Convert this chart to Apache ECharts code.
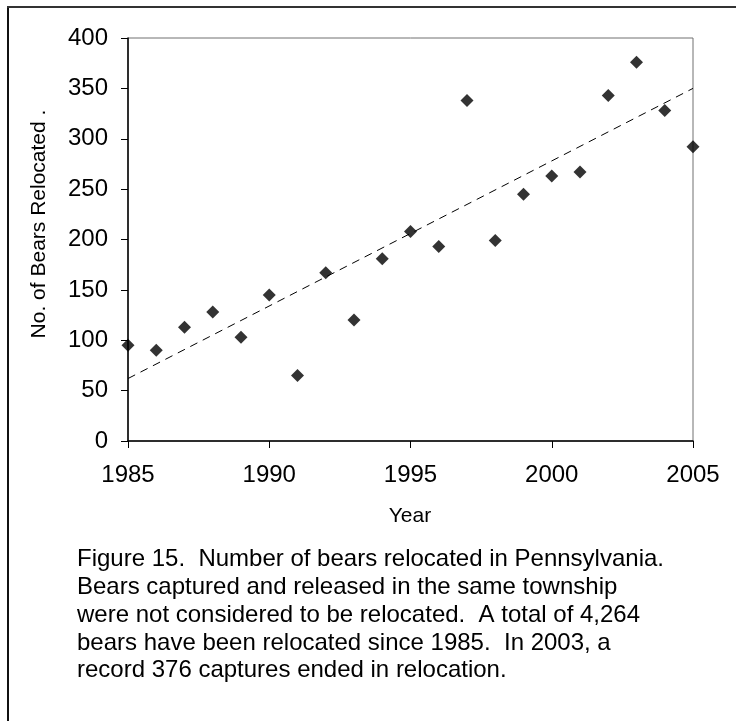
<!DOCTYPE html>
<html>
<head>
<meta charset="utf-8">
<script src="https://cdn.jsdelivr.net/npm/echarts@6/dist/echarts.min.js"></script>
<style>
  html, body { margin: 0; padding: 0; background: #fff; }
  #chart { width: 736px; height: 721px; }
</style>
</head>
<body>
<div id="chart"></div>
<script>
// ---- data ----
const years = [1985, 1986, 1987, 1988, 1989, 1990, 1991, 1992, 1993, 1994, 1995,
               1996, 1997, 1998, 1999, 2000, 2001, 2002, 2003, 2004, 2005];
const bearsRelocated = [95, 90, 113, 128, 103, 145, 65, 167, 120, 181, 208,
                        193, 338, 199, 245, 263, 267, 343, 376, 328, 292];
const trendYears = [1985, 2005];
const trendValues = [62, 350];
const xTickStep = 5;
const yTickStep = 50;
const yMax = 400;
const xTitle = 'Year';
const yTitle = 'No. of Bears Relocated .';
const captionLines = [
  'Figure 15.  Number of bears relocated in Pennsylvania.',
  'Bears captured and released in the same township',
  'were not considered to be relocated.  A total of 4,264',
  'bears have been relocated since 1985.  In 2003, a',
  'record 376 captures ended in relocation.'
];

const FONT = '"Liberation Sans", Arial, sans-serif';

const chart = echarts.init(document.getElementById('chart'), null, { renderer: 'canvas' });

const option = {
  backgroundColor: '#ffffff',
  animation: false,
  grid: {
    left: 128, top: 38, right: 43, bottom: 280,
    show: true, borderColor: '#707070', borderWidth: 1, backgroundColor: 'transparent'
  },
  xAxis: {
    type: 'value',
    min: years[0], max: years[years.length - 1], interval: xTickStep,
    splitLine: { show: false },
    axisLine: { show: true, lineStyle: { color: '#000', width: 1.5 } },
    axisTick: { show: true, inside: false, length: 7, lineStyle: { color: '#000', width: 1 } },
    axisLabel: {
      color: '#000', fontFamily: FONT, fontSize: 24, margin: 22,
      formatter: function (v) { return String(v); }
    }
  },
  yAxis: {
    type: 'value',
    min: 0, max: yMax, interval: yTickStep,
    splitLine: { show: false },
    axisLine: { show: true, lineStyle: { color: '#000', width: 1.5 } },
    axisTick: { show: true, inside: false, length: 7, lineStyle: { color: '#000', width: 1 } },
    axisLabel: { color: '#000', fontFamily: FONT, fontSize: 24, margin: 20 }
  },
  series: [
    {
      type: 'line',
      data: trendYears.map((y, i) => [y, trendValues[i]]),
      symbol: 'none',
      lineStyle: { color: '#000', width: 1, type: [8, 6] },
      silent: true,
      z: 2
    },
    {
      type: 'scatter',
      data: years.map((y, i) => [y, bearsRelocated[i]]),
      symbol: 'diamond',
      symbolSize: [13, 13],
      itemStyle: { color: '#000' },
      clip: false,
      z: 3
    }
  ],
  graphic: [
    { type: 'line', shape: { x1: 8, y1: 7, x2: 8, y2: 721 }, style: { stroke: '#111', lineWidth: 2 } },
    { type: 'line', shape: { x1: 7, y1: 7, x2: 736, y2: 7 }, style: { stroke: '#333', lineWidth: 2 } },
    {
      type: 'text', x: 39, y: 224, rotation: Math.PI / 2,
      style: { text: yTitle, fill: '#000', font: '21px ' + FONT, textAlign: 'center', textVerticalAlign: 'middle' }
    },
    {
      type: 'text', x: 410, y: 516,
      style: { text: xTitle, fill: '#000', font: '21px ' + FONT, textAlign: 'center', textVerticalAlign: 'middle' }
    },
    {
      type: 'text', x: 77, y: 546,
      style: { text: captionLines.join('\n'), fill: '#000', font: '24px ' + FONT, lineHeight: 27.7, textAlign: 'left', textVerticalAlign: 'top' }
    }
  ]
};
chart.setOption(option);
</script>
</body>
</html>
